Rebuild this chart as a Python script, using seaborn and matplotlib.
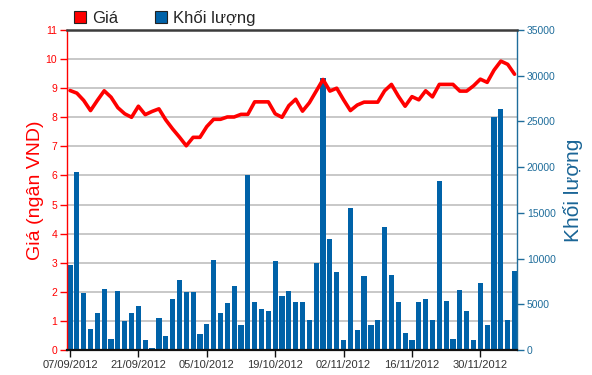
import matplotlib
matplotlib.use("Agg")
import matplotlib.pyplot as plt
import numpy as np
import pandas as pd
import seaborn as sns
from matplotlib.patches import Patch

sns.set_style("white")
plt.rcParams["font.family"] = ["Liberation Sans", "DejaVu Sans"]

# ---- data -------------------------------------------------------------
dates = [d.strftime("%d/%m/%Y") for d in pd.bdate_range("2012-09-07", "2012-12-07")]

price = [8.92, 8.83, 8.58, 8.23, 8.58, 8.91, 8.69, 8.33, 8.12, 8.00,
         8.38, 8.09, 8.20, 8.29, 7.91, 7.60, 7.32, 7.02, 7.31, 7.31,
         7.68, 7.93, 7.93, 8.01, 8.01, 8.10, 8.10, 8.53, 8.53, 8.53,
         8.12, 8.00, 8.40, 8.62, 8.21, 8.50, 8.90, 9.30, 8.90, 9.00,
         8.60, 8.23, 8.42, 8.52, 8.52, 8.52, 8.91, 9.13, 8.73, 8.38,
         8.71, 8.60, 8.91, 8.70, 9.13, 9.13, 9.13, 8.90, 8.90, 9.08,
         9.31, 9.20, 9.62, 9.93, 9.82, 9.48]

volume = [9300, 19500, 6200, 2300, 4000, 6650, 1150, 6400, 3150, 4100,
          4850, 1050, 200, 3450, 1500, 5550, 7650, 6350, 6350, 1750,
          2850, 9850, 4000, 5100, 7050, 2700, 19100, 5250, 4450, 4250,
          9750, 5950, 6400, 5250, 5250, 3300, 9500, 29700, 12100, 8500,
          1050, 15500, 2150, 8050, 2700, 3300, 13400, 8200, 5250, 1900,
          1050, 5250, 5550, 3300, 18500, 5400, 1150, 6550, 4250, 1050,
          7350, 2700, 25450, 26400, 3300, 8650]

tick_labels = dates[::10]
legend_labels = ["Giá", "Khối lượng"]

RED = "#FF0000"
BLUE = "#0062A8"
TEAL = "#1F6D9B"

df = pd.DataFrame({"idx": np.arange(len(dates)), "date": dates,
                   "price": price, "volume": volume})

# ---- figure -----------------------------------------------------------
fig = plt.figure(figsize=(5.92, 3.75), dpi=100)
ax = fig.add_axes([67 / 592, 25 / 375, 450 / 592, 320 / 375])
ax2 = ax.twinx()
ax.set_zorder(ax2.get_zorder() + 1)
ax.patch.set_visible(False)

ax.set_ylim(0, 11)
ax2.set_ylim(0, 35000)

sns.barplot(data=df, x="idx", y="volume", ax=ax2, color=BLUE, width=0.76,
            saturation=1, linewidth=0, zorder=2)
sns.lineplot(data=df, x="idx", y="price", ax=ax, color=RED, linewidth=2.6,
             zorder=5)

ax2.set_autoscale_on(False)
ax.set_ylim(0, 11)
ax2.set_ylim(0, 35000)
ax.set_yticks(range(0, 12))
ax2.set_yticks(range(0, 35001, 5000))

# gridlines at price ticks, drawn behind the bars
for p in range(1, 11):
    ax2.plot([0, 1], [p, p], transform=ax.get_yaxis_transform(),
             color="#C8C8C8", lw=1.4, zorder=0, solid_capstyle="butt")

ax.set_xlim(-0.44, 65.36)
ax.set_xticks(range(0, len(dates), 10))
ax.set_xticklabels(tick_labels)

for a in (ax, ax2):
    a.set_xlabel("")
    a.set_ylabel("")
    a.grid(False)

# spines
ax.spines["left"].set_color(RED)
ax.spines["left"].set_linewidth(1)
ax.spines["bottom"].set_color("#111111")
ax.spines["bottom"].set_linewidth(1.6)
ax.spines["top"].set_color("#3C3C3C")
ax.spines["top"].set_linewidth(1.8)
ax.spines["right"].set_visible(False)
for s in ("left", "top", "bottom"):
    ax2.spines[s].set_visible(False)
ax2.spines["right"].set_color(TEAL)
ax2.spines["right"].set_linewidth(1)

ax.tick_params(axis="y", which="both", left=True, colors=RED, length=5,
               width=1, labelsize=7.5, direction="out", pad=2)
ax.tick_params(axis="x", bottom=True, color="#111111", labelcolor="#333333",
               length=5, width=1, labelsize=8, direction="out", pad=2)
ax2.tick_params(axis="y", right=True, colors=TEAL, length=5, width=1,
                labelsize=7.5, direction="out", pad=2)

# axis titles
fig.text(35 / 592, 1 - 190 / 375, "Giá (ngân VND)", rotation=90, color=RED,
         fontsize=14, ha="center", va="center")
fig.text(573 / 592, 1 - 190 / 375, "Khối lượng", rotation=90, color="#1A6596",
         fontsize=15, ha="center", va="center")

# legend
handles = [Patch(facecolor=RED, edgecolor="#222222", linewidth=0.8),
           Patch(facecolor=BLUE, edgecolor="#222222", linewidth=0.8)]
fig.legend(handles=handles, labels=legend_labels, loc="center left",
           bbox_to_anchor=(74 / 592, 1 - 18 / 375), ncol=2, frameon=False,
           fontsize=12, handlelength=0.72, handleheight=0.72,
           handletextpad=0.36, columnspacing=2.2, borderpad=0,
           borderaxespad=0)

fig.savefig("out.png", dpi=100)
